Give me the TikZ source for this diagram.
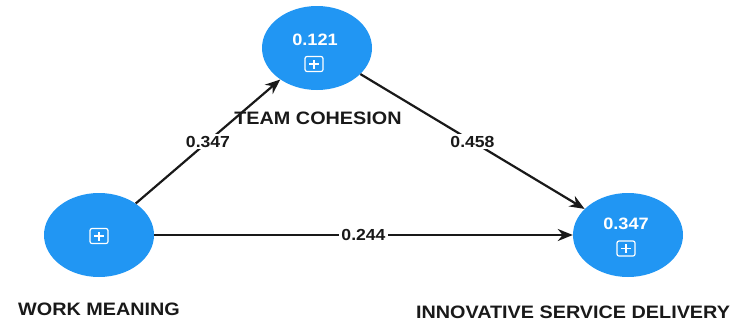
\documentclass[tikz,border=0pt]{standalone}
\usepackage{fontspec}
\setmainfont{Liberation Sans}
\newfontfamily\widefont[FakeStretch=1.1]{Liberation Sans}
\usetikzlibrary{shapes.geometric,arrows.meta}
\definecolor{lvblue}{RGB}{33,150,243}
\definecolor{txtdark}{RGB}{25,25,25}
\tikzset{
  latent/.style={ellipse, fill=lvblue, draw=none, minimum width=110pt, minimum height=84pt, inner sep=0pt},
  vallab/.style={text=white, font=\widefont\bfseries\fontsize{16.5}{17}\selectfont, inner sep=0pt},
  namelab/.style={text=txtdark, font=\widefont\bfseries\fontsize{18}{19}\selectfont, inner sep=0pt},
  pathlab/.style={text=txtdark, fill=white, font=\widefont\bfseries\fontsize{16}{17}\selectfont, inner sep=2pt},
  conn/.style={line width=2.2pt, txtdark, -{Stealth[length=15pt,width=12pt]}},
  iconbox/.style={draw=white, line width=1.2pt, rounded corners=2pt, minimum width=18pt, minimum height=15pt, inner sep=0pt}
}
\begin{document}
\begin{tikzpicture}[x=1pt,y=-1pt]
\useasboundingbox (0,0) rectangle (734,322);
% latent variables
\node[latent] (tc) at (317,48) {};
\node[latent] (wm) at (99,235) {};
\node[latent] (isd) at (628,235) {};
% values
\node[vallab] (tcv) at (315,40) {0.121};
\node[vallab] (isdv) at (626,223.5) {0.347};
% icons
\node[iconbox] (tci) at (314,64) {};
\node[iconbox] (wmi) at (99,236) {};
\node[iconbox] (isdi) at (626,248.5) {};
\foreach \n in {tci,wmi,isdi}{
  \draw[white, line width=1.2pt] ([xshift=-5pt]\n.center) -- ([xshift=5pt]\n.center);
  \draw[white, line width=1.2pt] ([yshift=-4.5pt]\n.center) -- ([yshift=4.5pt]\n.center);
}
% names
\node[namelab] (tcn) at (318,118) {TEAM COHESION};
\node[namelab] (wmn) at (99,309.5) {WORK MEANING};
\node[namelab] (isdn) at (573,312.5) {INNOVATIVE SERVICE DELIVERY};
% connectors
\draw[conn] (wm) -- node[pathlab, pos=0.5] (l1) {0.347} (tc);
\draw[conn] (tc) -- node[pathlab, pos=0.5] (l2) {0.458} (isd);
\draw[conn] (wm) -- node[pathlab, pos=0.5] (l3) {0.244} (isd);
\end{tikzpicture}
\end{document}
